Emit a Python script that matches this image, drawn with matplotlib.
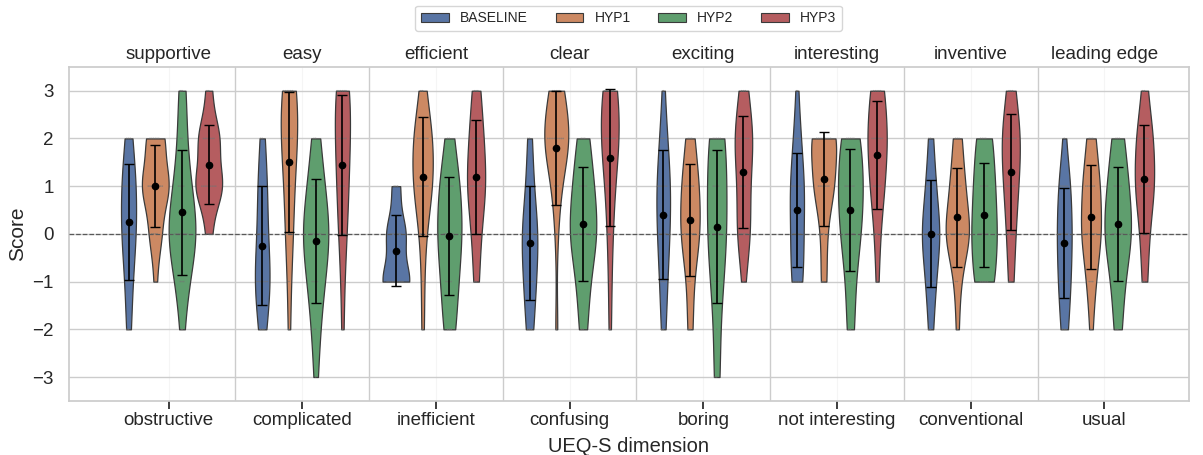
import numpy as np
import pandas as pd
import matplotlib
matplotlib.use("Agg")
import matplotlib.pyplot as plt
from matplotlib.patches import Patch
import seaborn as sns

# score levels of the questionnaire
levels = [-3, -2, -1, 0, 1, 2, 3]
dims_pos = ['supportive', 'easy', 'efficient', 'clear', 'exciting',
            'interesting', 'inventive', 'leading edge']
dims_neg = ['obstructive', 'complicated', 'inefficient', 'confusing', 'boring',
            'not interesting', 'conventional', 'usual']
hyps = ['BASELINE', 'HYP1', 'HYP2', 'HYP3']

# answers per score level (-3 .. 3), one row per dimension (estimated)
baseline_counts = [
    [0, 2, 3, 6, 6, 3, 0],
    [0, 3, 7, 4, 4, 2, 0],
    [0, 0, 10, 7, 3, 0, 0],
    [0, 3, 5, 7, 3, 2, 0],
    [0, 2, 3, 5, 6, 3, 1],
    [0, 0, 5, 5, 6, 3, 1],
    [0, 2, 4, 8, 4, 2, 0],
    [0, 3, 5, 6, 5, 1, 0],
]
hyp1_counts = [
    [0, 0, 1, 4, 9, 6, 0],
    [0, 1, 1, 3, 3, 6, 6],
    [0, 1, 1, 2, 7, 7, 2],
    [0, 1, 0, 1, 3, 10, 5],
    [0, 2, 2, 7, 6, 3, 0],
    [0, 0, 2, 2, 7, 9, 0],
    [0, 1, 2, 9, 5, 3, 0],
    [0, 1, 3, 7, 6, 3, 0],
]
hyp2_counts = [
    [0, 1, 3, 8, 4, 2, 2],
    [1, 2, 4, 7, 4, 2, 0],
    [0, 3, 4, 6, 5, 2, 0],
    [0, 2, 3, 7, 5, 3, 0],
    [2, 1, 3, 5, 4, 5, 0],
    [0, 2, 2, 5, 6, 5, 0],
    [0, 0, 5, 6, 5, 4, 0],
    [0, 2, 3, 7, 5, 3, 0],
]
hyp3_counts = [
    [0, 0, 0, 2, 9, 7, 2],
    [0, 1, 1, 3, 4, 5, 6],
    [0, 0, 2, 3, 7, 5, 3],
    [0, 1, 1, 2, 3, 7, 6],
    [0, 0, 1, 5, 4, 7, 3],
    [0, 0, 1, 2, 5, 7, 5],
    [0, 0, 2, 3, 5, 7, 3],
    [0, 0, 2, 3, 7, 6, 2],
]

# expand counts into single answers
rows = []
for hyp, counts in zip(hyps, [baseline_counts, hyp1_counts, hyp2_counts, hyp3_counts]):
    for dim, c in zip(dims_neg, counts):
        for lvl, n in zip(levels, c):
            rows += [(dim, hyp, lvl)] * n
df = pd.DataFrame(rows, columns=['dim', 'hyp', 'score'])

sns.set_theme(style='whitegrid')
plt.rcParams['font.family'] = ['Liberation Sans', 'DejaVu Sans']

fig, ax = plt.subplots(figsize=(12.03, 4.55), dpi=100)
fig.subplots_adjust(left=0.0574, right=0.988, top=0.853, bottom=0.119)

pal = sns.color_palette('deep', 4)
sns.violinplot(data=df, x='dim', y='score', hue='hyp', order=dims_neg, hue_order=hyps,
               cut=0, inner=None, density_norm='area', linewidth=0.9, linecolor='#3a3a3a',
               palette=pal, ax=ax, legend=False)
sns.swarmplot(data=df, x='dim', y='score', hue='hyp', order=dims_neg, hue_order=hyps,
              dodge=True, size=1.2, palette=['0.45'] * 4, alpha=0.6, ax=ax, legend=False)

# mean and standard deviation
for j, hyp in enumerate(hyps):
    grp = df[df.hyp == hyp].groupby('dim')['score']
    means = grp.mean().reindex(dims_neg)
    sds = grp.std().reindex(dims_neg)
    xs = np.arange(len(dims_neg)) + (j - 1.5) * 0.2
    ax.errorbar(xs, means, yerr=sds, fmt='o', color='black', ms=4.5, capsize=3.5,
                elinewidth=1.2, capthick=1.0, zorder=6)

ax.axhline(0, color='0.35', ls='--', lw=0.9, zorder=5)
for k in range(len(dims_neg) - 1):
    ax.axvline(k + 0.5, color='0.8', lw=1.0, zorder=0)

ax.set_xlim(-0.745, 7.63)
ax.set_ylim(-3.5, 3.5)
ax.set_yticks(range(-3, 4))
ax.xaxis.grid(True, color='0.96', lw=0.8)
ax.tick_params(axis='x', labelsize=13.5, pad=2)
ax.tick_params(axis='y', labelsize=13.5, pad=5)
ax.set_xlabel('UEQ-S dimension', fontsize=14.5, labelpad=6)
ax.set_ylabel('Score', fontsize=15)

ax2 = ax.twiny()
ax2.set_xlim(ax.get_xlim())
ax2.set_xticks(range(len(dims_pos)))
ax2.set_xticklabels(dims_pos)
ax2.grid(False)
ax2.tick_params(axis='x', labelsize=13.5, pad=3, length=0)
for s in ax2.spines.values():
    s.set_visible(False)

handles = [Patch(facecolor=sns.desaturate(c, 0.75), edgecolor='#3a3a3a', lw=0.8) for c in pal]
ax.legend(handles, hyps, loc='lower center', bbox_to_anchor=(0.5, 1.108), ncol=4,
          fontsize=10, frameon=True, borderaxespad=0)

plt.savefig('out.png')
